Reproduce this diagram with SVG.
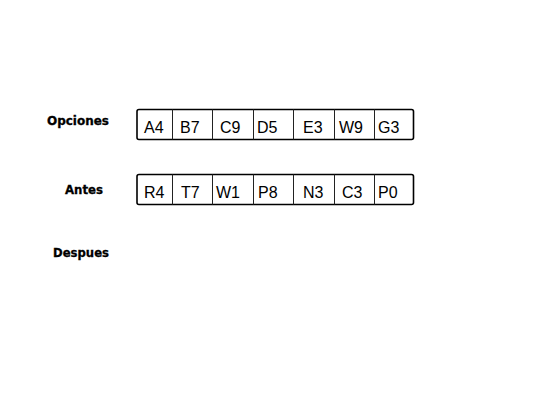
<svg xmlns="http://www.w3.org/2000/svg" width="550" height="400" viewBox="0 0 550 400">
<style>
.lbl{font-family:"DejaVu Sans","Liberation Sans",sans-serif;font-weight:bold;font-size:11.5px;fill:#000;stroke:#000;stroke-width:0.3}
.cell{font-family:"Liberation Sans",Arial,sans-serif;font-size:16px;fill:#000}
.box{fill:#fff;stroke:#000;stroke-width:1.6}
.div{stroke:#222;stroke-width:1}
</style>
<rect width="550" height="400" fill="#fff"/>
<g id="label-opciones"><text class="lbl" x="47" y="125" textLength="62" lengthAdjust="spacingAndGlyphs">Opciones</text></g>
<g id="label-antes"><text class="lbl" x="65" y="194" textLength="38" lengthAdjust="spacingAndGlyphs">Antes</text></g>
<g id="label-despues"><text class="lbl" x="53" y="257" textLength="56" lengthAdjust="spacingAndGlyphs">Despues</text></g>
<g id="row-opciones">
<rect class="box" x="137" y="109.5" width="276.5" height="30" rx="2"/>
<path class="div" d="M172.5 109.5V139.5M212.5 109.5V139.5M253.5 109.5V139.5M293.5 109.5V139.5M334.5 109.5V139.5M374.5 109.5V139.5"/>
<text class="cell" x="144" y="132.5">A4</text>
<text class="cell" x="180" y="132.5">B7</text>
<text class="cell" x="220" y="132.5">C9</text>
<text class="cell" x="257" y="132.5">D5</text>
<text class="cell" x="303" y="132.5">E3</text>
<text class="cell" x="339" y="132.5">W9</text>
<text class="cell" x="378" y="132.5">G3</text>
</g>
<g id="row-antes">
<rect class="box" x="137" y="174.5" width="276.5" height="30" rx="2"/>
<path class="div" d="M172.5 174.5V204.5M212.5 174.5V204.5M253.5 174.5V204.5M293.5 174.5V204.5M334.5 174.5V204.5M374.5 174.5V204.5"/>
<text class="cell" x="144" y="197.5">R4</text>
<text class="cell" x="181" y="197.5">T7</text>
<text class="cell" x="216" y="197.5">W1</text>
<text class="cell" x="258" y="197.5">P8</text>
<text class="cell" x="303" y="197.5">N3</text>
<text class="cell" x="342" y="197.5">C3</text>
<text class="cell" x="378" y="197.5">P0</text>
</g>
<g id="connectors"></g>
</svg>
